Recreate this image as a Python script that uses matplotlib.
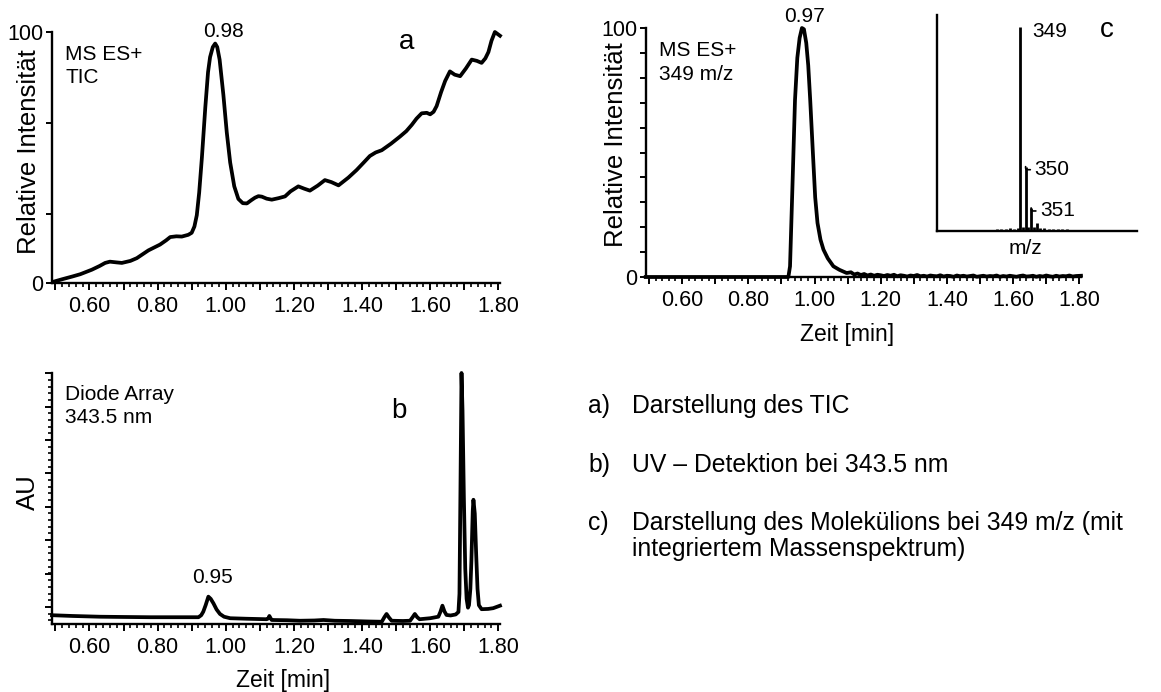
import numpy as np
import matplotlib
matplotlib.use("Agg")
import matplotlib.pyplot as plt
from matplotlib.ticker import MultipleLocator, FixedLocator, FuncFormatter

plt.rcParams['font.family'] = ['Liberation Sans', 'DejaVu Sans']

# --- TIC chromatogram (a) ---
tic_time = [0.494, 0.52, 0.55, 0.573, 0.607, 0.63, 0.646, 0.66, 0.68, 0.695, 0.72, 0.739,
            0.773, 0.807, 0.825, 0.837, 0.855, 0.871, 0.89, 0.90, 0.908, 0.915, 0.922, 0.93,
            0.94, 0.948, 0.954, 0.962, 0.969, 0.975, 0.982, 0.993, 1.003, 1.013, 1.025, 1.037,
            1.05, 1.062, 1.075, 1.086, 1.096, 1.106, 1.12, 1.135, 1.155, 1.174, 1.19, 1.213,
            1.23, 1.247, 1.27, 1.291, 1.31, 1.331, 1.36, 1.384, 1.405, 1.423, 1.44, 1.458,
            1.485, 1.511, 1.53, 1.546, 1.56, 1.575, 1.59, 1.60, 1.61, 1.619, 1.632, 1.644,
            1.658, 1.672, 1.688, 1.705, 1.722, 1.737, 1.751, 1.762, 1.771, 1.78, 1.79, 1.805]
tic_int = [0.5, 1.5, 2.6, 3.5, 5.3, 6.8, 8.0, 8.5, 8.2, 8.0, 8.8, 9.9,
           13.0, 15.3, 17.0, 18.3, 18.6, 18.5, 19.2, 20.0, 22.5, 27.0, 36.0, 50.0,
           70.0, 84.0, 90.0, 94.0, 95.4, 94.0, 89.0, 75.0, 60.0, 48.0, 38.5, 33.5,
           31.8, 31.7, 33.0, 34.0, 34.6, 34.4, 33.6, 33.2, 33.8, 34.5, 36.5, 38.5,
           37.6, 36.8, 38.8, 41.0, 40.2, 38.9, 42.0, 45.0, 48.0, 50.6, 52.0, 52.9,
           55.5, 58.3, 60.5, 63.0, 65.5, 67.6, 67.8, 67.2, 68.2, 70.5, 76.0, 80.5,
           84.3, 83.0, 82.4, 85.5, 89.0, 88.5, 87.7, 89.5, 92.0, 96.5, 100.0, 98.5]

# --- UV trace at 343.5 nm (b) ---
uv_time = [0.49, 0.55, 0.631, 0.70, 0.778, 0.85, 0.92, 0.928, 0.934, 0.941, 0.949, 0.956,
           0.964, 0.973, 0.983, 0.995, 1.013, 1.06, 1.12, 1.125, 1.128, 1.132, 1.135, 1.18,
           1.218, 1.26, 1.287, 1.32, 1.365, 1.42, 1.458, 1.466, 1.472, 1.479, 1.487, 1.52,
           1.541, 1.549, 1.555, 1.562, 1.569, 1.60, 1.624, 1.63, 1.636, 1.642, 1.648, 1.66,
           1.675, 1.683, 1.686, 1.689, 1.692, 1.695, 1.699, 1.703, 1.707, 1.711, 1.714, 1.718,
           1.721, 1.725, 1.727, 1.731, 1.735, 1.739, 1.743, 1.751, 1.77, 1.785, 1.805]
uv_abs = [3.5, 3.2, 2.9, 2.8, 2.7, 2.7, 2.7, 3.5, 4.9, 7.5, 10.9, 10.0,
          8.2, 5.8, 4.0, 2.9, 2.3, 2.1, 1.9, 2.2, 3.2, 2.2, 1.6, 1.5,
          1.3, 1.4, 1.6, 1.3, 1.2, 1.0, 0.9, 2.8, 4.0, 2.6, 1.3, 1.2,
          1.3, 2.8, 4.0, 2.7, 1.9, 2.3, 2.9, 4.8, 7.3, 5.0, 3.6, 3.4,
          3.8, 4.8, 12.0, 55.0, 100.0, 85.0, 50.0, 22.0, 10.0, 6.5, 7.5, 14.0,
          25.0, 45.0, 49.5, 44.0, 28.0, 14.0, 7.5, 5.9, 6.0, 6.3, 7.3]

# --- extracted ion chromatogram 349 m/z (c) ---
xic_time = [0.49, 0.921, 0.926, 0.933, 0.941, 0.948, 0.955, 0.962, 0.968, 0.975, 0.981,
            0.987, 0.995, 1.002, 1.009, 1.018, 1.027, 1.04, 1.057, 1.075, 1.097, 1.11,
            1.12, 1.13, 1.14, 1.15, 1.16, 1.17, 1.18, 1.19, 1.20, 1.21, 1.22, 1.23, 1.24,
            1.25, 1.26, 1.27, 1.28, 1.29, 1.30, 1.31, 1.32, 1.33, 1.34, 1.35, 1.36, 1.37,
            1.38, 1.39, 1.40, 1.41, 1.42, 1.43, 1.44, 1.45, 1.46, 1.47, 1.48, 1.49, 1.50,
            1.51, 1.52, 1.53, 1.54, 1.55, 1.56, 1.57, 1.58, 1.59, 1.60, 1.61, 1.62, 1.63,
            1.64, 1.65, 1.66, 1.67, 1.68, 1.69, 1.70, 1.71, 1.72, 1.73, 1.74, 1.75, 1.76,
            1.77, 1.78, 1.79, 1.805]
xic_int = [0.0, 0.0, 4.3, 35.0, 71.0, 88.0, 96.0, 100.0, 99.5, 94.0, 85.0,
           71.0, 50.0, 32.0, 21.7, 15.0, 11.0, 7.5, 4.3, 2.9, 1.6, 1.9,
           1.0, 1.4, 0.8, 1.2, 0.6, 1.0, 0.5, 0.9, 0.7, 0.4, 0.8, 0.5, 0.9,
           0.3, 0.7, 0.5, 0.2, 0.6, 0.4, 0.8, 0.3, 0.5, 0.2, 0.6, 0.4, 0.3,
           0.7, 0.2, 0.5, 0.4, 0.1, 0.6, 0.3, 0.5, 0.2, 0.4, 0.6, 0.1, 0.3,
           0.5, 0.2, 0.4, 0.3, 0.6, 0.1, 0.4, 0.2, 0.5, 0.3, 0.1, 0.4, 0.6,
           0.2, 0.3, 0.5, 0.1, 0.4, 0.2, 0.6, 0.3, 0.1, 0.5, 0.2, 0.4, 0.3,
           0.6, 0.2, 0.4, 0.5]

# --- mass spectrum inset ---
ms_mz = [344.8, 345.6, 346.4, 347.2, 348.0, 348.6, 349.0, 349.6, 350.0, 350.5, 351.0,
         351.5, 352.0, 352.6, 353.4, 354.2, 355.0, 355.8, 356.6, 357.4, 358.0]
ms_int = [0.8, 1.2, 0.9, 1.4, 1.1, 1.6, 100.0, 2.0, 31.5, 1.8, 11.3,
          2.2, 4.0, 1.5, 1.3, 1.0, 1.2, 0.9, 1.1, 0.8, 0.6]
ms_labels = {349: '349', 350: '350', 351: '351'}

W, H = 1161, 692
fig = plt.figure(figsize=(W / 100, H / 100), dpi=100)


def px_axes(left, top, right, bottom):
    return fig.add_axes([left / W, 1 - bottom / H, (right - left) / W, (bottom - top) / H])


def style_time_axis(ax):
    for s in ('top', 'right'):
        ax.spines[s].set_visible(False)
    for s in ('left', 'bottom'):
        ax.spines[s].set_linewidth(1.7)
    ax.set_xlim(0.49, 1.805)
    ax.xaxis.set_major_locator(MultipleLocator(0.1))
    ax.xaxis.set_minor_locator(MultipleLocator(0.02))
    ax.xaxis.set_major_formatter(FuncFormatter(
        lambda v, p: f'{v:.2f}' if round(v * 10) % 2 == 0 and v > 0.55 else ''))
    ax.tick_params(axis='x', which='major', length=5, width=1.4, labelsize=15.5, pad=4.5)
    ax.tick_params(axis='x', which='minor', length=3, width=1.2)
    ax.tick_params(axis='y', which='major', length=4, width=1.4, labelsize=15.5, pad=2)
    ax.tick_params(axis='y', which='minor', length=3, width=1.2)


def two_lines(ax, x, y1, lines, step):
    for i, s in enumerate(lines):
        ax.text(x, y1 - i * step, s, fontsize=15, va='baseline')


line_kw = dict(color='black', lw=2.7, solid_joinstyle='round', clip_on=False)

# Panel a: TIC
ax_a = px_axes(52, 32, 500, 283)
style_time_axis(ax_a)
ax_a.plot(tic_time, tic_int, **line_kw)
ax_a.set_ylim(0, 100)
ax_a.yaxis.set_major_locator(FixedLocator([0, 27.5, 63.7, 100]))
ax_a.set_yticklabels(['0', '', '', '100'])
ax_a.text(-0.052, 0.525, 'Relative Intensität', rotation=90, transform=ax_a.transAxes,
          ha='center', va='center', fontsize=18.5)
two_lines(ax_a, 0.529, 88.8, ['MS ES+', 'TIC'], 9.2)
ax_a.text(0.992, 98, '0.98', fontsize=15, ha='center', va='baseline')
ax_a.text(1.531, 93.4, 'a', fontsize=20, ha='center', va='baseline')

# Panel b: diode array
ax_b = px_axes(52, 373, 500, 624)
style_time_axis(ax_b)
ax_b.plot(uv_time, uv_abs, **line_kw)
ax_b.set_ylim(0, 100)
ax_b.yaxis.set_major_locator(FixedLocator([6.8 + 13.3 * k for k in range(8)]))
ax_b.yaxis.set_minor_locator(FixedLocator([1.5 + 2.66 * k for k in range(37)]))
ax_b.set_yticklabels([])
ax_b.tick_params(axis='y', which='major', length=5)
ax_b.text(-0.054, 0.524, 'AU', rotation=90, transform=ax_b.transAxes,
          ha='center', va='center', fontsize=18.5)
two_lines(ax_b, 0.529, 89.4, ['Diode Array', '343.5 nm'], 9.2)
ax_b.text(0.962, 16.5, '0.95', fontsize=15, ha='center', va='baseline')
ax_b.text(1.507, 82, 'b', fontsize=20, ha='center', va='baseline')
fig.text(283 / W, 1 - 681 / H, 'Zeit [min]', fontsize=16.5, ha='center', va='center')

# Panel c: 349 m/z trace
ax_c = px_axes(645.7, 28, 1081, 277)
style_time_axis(ax_c)
ax_c.plot(xic_time, xic_int, **line_kw)
ax_c.set_ylim(0, 100)
ax_c.yaxis.set_major_locator(MultipleLocator(10))
ax_c.yaxis.set_major_formatter(FuncFormatter(lambda v, p: f'{v:.0f}' if v in (0, 100) else ''))
ax_c.text(-0.068, 0.53, 'Relative Intensität', rotation=90, transform=ax_c.transAxes,
          ha='center', va='center', fontsize=18.5)
two_lines(ax_c, 0.53, 88.6, ['MS ES+', '349 m/z'], 9.3)
ax_c.text(0.971, 101, '0.97', fontsize=15, ha='center', va='bottom')
fig.text(846.7 / W, 1 - 335 / H, 'Zeit [min]', fontsize=16.5, ha='center', va='center')

# Inset: mass spectrum
ax_ms = px_axes(936.7, 15, 1136.7, 231)
ax_ms.set_facecolor('none')
for s in ('top', 'right'):
    ax_ms.spines[s].set_visible(False)
for s in ('left', 'bottom'):
    ax_ms.spines[s].set_linewidth(1.7)
ax_ms.set_xticks([])
ax_ms.set_yticks([])
ax_ms.set_xlim(334, 370)
ax_ms.set_ylim(0, 105.7)
ax_ms.vlines(ms_mz, 0, ms_int, color='black', lw=2.0)
for mz, val in zip(ms_mz, ms_int):
    if mz in ms_labels:
        if val >= 99:
            ax_ms.text(mz + 2.2, val - 5, ms_labels[mz], fontsize=15, va='baseline')
        else:
            ax_ms.annotate(ms_labels[mz], xy=(mz, val), xytext=(mz + 1.6, val - 1.5),
                           fontsize=15, va='center',
                           arrowprops=dict(arrowstyle='-', lw=1.2, color='black',
                                           shrinkA=1, shrinkB=0,
                                           connectionstyle='angle,angleA=0,angleB=90,rad=2'))
ax_ms.text(364.6, 94.8, 'c', fontsize=20, ha='center', va='baseline')
ax_ms.text(350, -4, 'm/z', fontsize=15, ha='center', va='top', clip_on=False)

# Legend text block
notes = [
    ('a)', 'Darstellung des TIC', 413),
    ('b)', 'UV – Detektion bei 343.5 nm', 471.7),
    ('c)', 'Darstellung des Molekülions bei 349 m/z (mit', 530),
]
for tag, body, base in notes:
    fig.text(588 / W, 1 - base / H, tag, fontsize=17.8, va='baseline')
    fig.text(631.7 / W, 1 - base / H, body, fontsize=17.8, va='baseline')
fig.text(631.7 / W, 1 - 556 / H, 'integriertem Massenspektrum)', fontsize=17.8, va='baseline')

fig.savefig('out.png', dpi=100)
